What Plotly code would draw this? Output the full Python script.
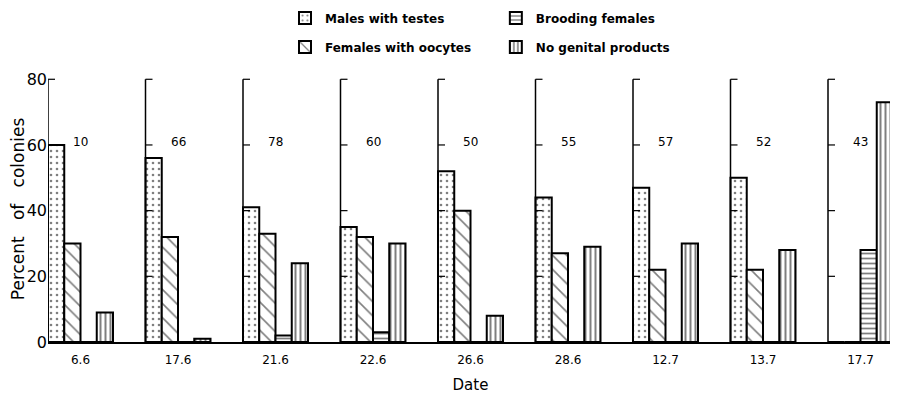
import plotly.graph_objects as go

dates = ["6.6", "17.6", "21.6", "22.6", "26.6", "28.6", "12.7", "13.7", "17.7"]
males_testes = [60, 56, 41, 35, 52, 44, 47, 50, 0]
females_oocytes = [30, 32, 33, 32, 40, 27, 22, 22, 0]
brooding_females = [0, 0, 2, 3, 0, 0, 0, 0, 28]
no_genital = [9, 1, 24, 30, 8, 29, 30, 28, 73]
sample_sizes = ["10", "66", "78", "60", "50", "55", "57", "52", "43"]
y_ticks = [0, 20, 40, 60, 80]

FONT = "DejaVu Sans"
BARGAP = 1 / 3

series = [
    ("Males with testes", males_testes, dict(shape=".", size=6, solidity=0.15), "legend", 1),
    ("Females with oocytes", females_oocytes, dict(shape="\\", size=10, solidity=0.16), "legend", 2),
    ("Brooding females", brooding_females, dict(shape="-", size=5, solidity=0.35), "legend2", 1),
    ("No genital products", no_genital, dict(shape="|", size=5, solidity=0.4), "legend2", 2),
]

fig = go.Figure()
for name, vals, pat, leg, rank in series:
    fig.add_trace(go.Bar(
        x=dates, y=vals, name=name,
        legend=leg, legendgroup=name, legendrank=rank,
        marker=dict(color="white",
                    line=dict(color="black", width=2),
                    pattern=dict(fgcolor="black", bgcolor="white", **pat)),
    ))

shapes = []
for i in range(len(dates)):
    xa = i - (1 - BARGAP) / 2
    shapes.append(dict(type="line", xref="x", yref="y", x0=xa, x1=xa, y0=0, y1=80,
                       line=dict(color="black", width=1.5), layer="above"))
    ticks = [80] if i == 0 else [20, 40, 60, 80]
    for v in ticks:
        shapes.append(dict(type="line", xref="x", yref="y", xsizemode="pixel", xanchor=xa,
                           x0=0, x1=7, y0=v, y1=v,
                           line=dict(color="black", width=1.2), layer="above"))

annotations = []
for i, n in enumerate(sample_sizes):
    annotations.append(dict(x=i, y=61, xref="x", yref="y", text=n, showarrow=False,
                            font=dict(family=FONT, size=12, color="black")))

fig.update_layout(
    width=890, height=386,
    margin=dict(l=40, r=5, t=68, b=52, autoexpand=False),
    paper_bgcolor="white", plot_bgcolor="white",
    barmode="group", bargap=BARGAP, bargroupgap=0,
    font=dict(family=FONT, color="black"),
    shapes=shapes, annotations=annotations,
    xaxis=dict(range=[-(1 - BARGAP) / 2, len(dates) - 1 + (1 - BARGAP) / 2],
               showline=True, linecolor="black", linewidth=2, ticks="",
               tickfont=dict(size=12), ticklabelstandoff=6,
               showgrid=False, zeroline=False,
               title=dict(text="Date", font=dict(size=15), standoff=13)),
    yaxis=dict(range=[0, 81], tickvals=y_ticks, showline=False, ticks="",
               showgrid=False, zeroline=False, tickfont=dict(size=16),
               title=dict(text="Percent\u00a0\u00a0\u00a0of\u00a0\u00a0\u00a0colonies",
                          font=dict(size=17), standoff=0)),
    legend=dict(x=0.2805, y=1.2726, xanchor="left", yanchor="top", tracegroupgap=10,
                font=dict(size=12, weight="bold"), bgcolor="rgba(0,0,0,0)"),
    legend2=dict(x=0.530, y=1.2726, xanchor="left", yanchor="top", tracegroupgap=10,
                 font=dict(size=12, weight="bold"), bgcolor="rgba(0,0,0,0)"),
)

fig.write_html("out.html")
